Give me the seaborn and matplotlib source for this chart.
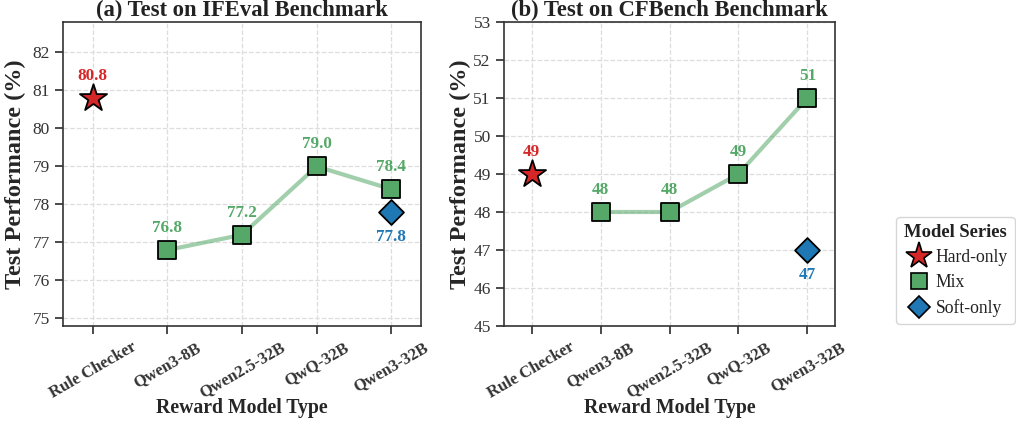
import pandas as pd
import seaborn as sns
import matplotlib.pyplot as plt
from matplotlib.lines import Line2D

models = ["Rule Checker", "Qwen3-8B", "Qwen2.5-32B", "QwQ-32B", "Qwen3-32B"]

# IFEval
if_hard = [80.8]
if_mix = [76.8, 77.2, 79.0, 78.4]
if_soft = [77.8]
# CFBench
cf_hard = [49]
cf_mix = [48, 48, 49, 51]
cf_soft = [47]

hard_models = ["Rule Checker"]
mix_models = ["Qwen3-8B", "Qwen2.5-32B", "QwQ-32B", "Qwen3-32B"]
soft_models = ["Qwen3-32B"]

red = "#d62728"
green = "#55a868"
blue = "#1f77b4"

sns.set_theme(style="ticks")
plt.rcParams['font.family'] = ['Liberation Serif', 'DejaVu Serif']
plt.rcParams['axes.edgecolor'] = '#333333'
plt.rcParams['xtick.color'] = '#333333'
plt.rcParams['ytick.color'] = '#333333'
plt.rcParams['text.color'] = '#222222'


def make_df(names, vals):
    return pd.DataFrame({'x': [models.index(n) for n in names], 'y': vals})


def draw(ax, hard, mix, soft, title, fmt, ylab_x):
    d_hard = make_df(hard_models, hard)
    d_mix = make_df(mix_models, mix)
    d_soft = make_df(soft_models, soft)

    ax.grid(True, linestyle='--', color='#dddddd', linewidth=0.9)
    ax.set_axisbelow(True)

    sns.lineplot(data=d_mix, x='x', y='y', ax=ax, color=green, alpha=0.55, linewidth=3, zorder=2)
    sns.scatterplot(data=d_hard, x='x', y='y', ax=ax, marker='*', s=420, color=red,
                    edgecolor='black', linewidth=1.3, zorder=4)
    sns.scatterplot(data=d_mix, x='x', y='y', ax=ax, marker='s', s=175, color=green,
                    edgecolor='black', linewidth=1.3, zorder=4)
    sns.scatterplot(data=d_soft, x='x', y='y', ax=ax, marker='D', s=160, color=blue,
                    edgecolor='black', linewidth=1.3, zorder=4)

    for d, c, off in [(d_hard, red, 16), (d_mix, green, 16), (d_soft, blue, -18)]:
        for x, y in zip(d['x'], d['y']):
            ax.annotate(fmt.format(y), (x, y), textcoords='offset points', xytext=(0, off),
                        ha='center', va='center', color=c, fontsize=12.3, fontweight='bold')

    allv = hard + mix + soft
    ax.set_ylim(min(allv) - 2, max(allv) + 2)
    ax.set_xlim(-0.4, 4.4)
    ax.set_xticks(range(len(models)))
    ax.set_xticklabels(models, rotation=30, ha='center', fontweight='bold', fontsize=12)
    ax.tick_params(axis='y', labelsize=12.5)
    ax.set_xlabel('Reward Model Type', fontsize=14.2, fontweight='bold')
    ax.set_ylabel('Test Performance (%)', fontsize=17.5, fontweight='bold')
    ax.xaxis.set_label_coords(0.5, -0.237)
    ax.yaxis.set_label_coords(ylab_x, 0.5)
    ax.set_title(title, fontsize=16.3, fontweight='bold', pad=4)
    for s in ax.spines.values():
        s.set_linewidth(1.2)


W, H = 1016, 423
fig = plt.figure(figsize=(W / 100, H / 100), dpi=100)
ax1 = fig.add_axes([63 / W, 97 / H, 358 / W, 304 / H])
ax2 = fig.add_axes([504 / W, 97 / H, 331 / W, 304 / H])

draw(ax1, if_hard, if_mix, if_soft, '(a) Test on IFEval Benchmark', '{:.1f}', -37 / 358)
draw(ax2, cf_hard, cf_mix, cf_soft, '(b) Test on CFBench Benchmark', '{:.0f}', -32.5 / 331)

handles = [
    Line2D([], [], marker='*', linestyle='', markersize=20, markerfacecolor=red,
           markeredgecolor='black', markeredgewidth=1.2, label='Hard-only'),
    Line2D([], [], marker='s', linestyle='', markersize=12, markerfacecolor=green,
           markeredgecolor='black', markeredgewidth=1.2, label='Mix'),
    Line2D([], [], marker='D', linestyle='', markersize=11, markerfacecolor=blue,
           markeredgecolor='black', markeredgewidth=1.2, label='Soft-only'),
]
leg = fig.legend(handles=handles, title='Model Series', loc='upper left',
                 bbox_to_anchor=(896 / W, 1 - 217 / H), borderaxespad=0,
                 fontsize=12.7, title_fontsize=13.4, frameon=True,
                 handletextpad=0.05, handlelength=1.8, borderpad=0.4, labelspacing=0.45)
leg.get_title().set_fontweight('bold')

fig.savefig('out.png', dpi=100)
